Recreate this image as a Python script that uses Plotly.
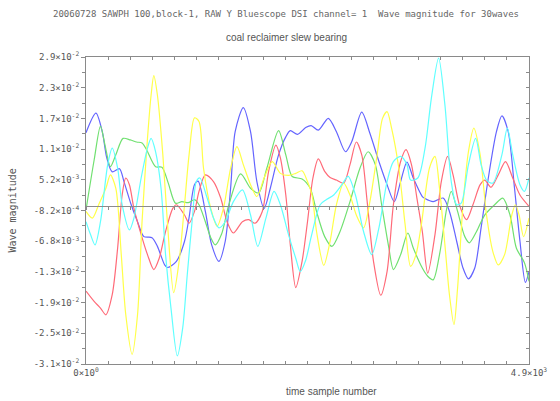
import plotly.graph_objects as go

# ---------------- data ----------------
blue_x = [0, 110, 180, 230, 290, 370, 420, 500, 570, 640, 730, 790, 870, 900, 1000, 1090, 1140, 1200, 1240, 1320,
          1390, 1470, 1540, 1600, 1650, 1740, 1820, 1890, 1970, 2040, 2130, 2210, 2260, 2340, 2430, 2490, 2570, 2680,
          2770, 2870, 2940, 3050, 3140, 3240, 3330, 3410, 3480, 3550, 3620, 3720, 3750, 3840, 3950, 4020, 4100, 4170,
          4230, 4300, 4370, 4450, 4540, 4600, 4670, 4740, 4800, 4860, 4900]
blue_y = [14.3e-3, 18.1e-3, 14.5e-3, 9.4e-3, 6.7e-3, 7.3e-3, 4.8e-3, 0.3e-3, -3.0e-3, -5.9e-3, -6.1e-3, -7.8e-3,
          -11.4e-3, -11.9e-3, -10.7e-3, -6.8e-3, -2.2e-3, 4.2e-3, 4.9e-3, -1.0e-3, -7.5e-3, -10.7e-3, -6.8e-3, 3.6e-3,
          14.5e-3, 19.2e-3, 14.5e-3, 4.8e-3, -0.4e-3, 3.6e-3, 10.0e-3, 13.5e-3, 14.7e-3, 14.0e-3, 15.3e-3, 15.7e-3,
          14.8e-3, 17.1e-3, 14.5e-3, 10.6e-3, 12.6e-3, 18.3e-3, 14.2e-3, 8.7e-3, 4.2e-3, 0.9e-3, 4.8e-3, 8.6e-3,
          5.5e-3, 1.9e-3, 1.5e-3, 0.9e-3, 1.6e-3, -1.0e-3, -6.8e-3, -12.0e-3, -14.1e-3, -12.0e-3, -4.2e-3, 5.5e-3,
          14.5e-3, 17.6e-3, 14.5e-3, 3.5e-3, -6.8e-3, -14.8e-3, -12.7e-3]

green_x = [0, 90, 160, 210, 270, 330, 410, 490, 560, 620, 670, 770, 840, 910, 990, 1060, 1130, 1200, 1250, 1320,
           1380, 1430, 1500, 1580, 1710, 1820, 1910, 2000, 2130, 2210, 2280, 2390, 2480, 2550, 2640, 2720, 2810, 2920,
           3030, 3120, 3200, 3270, 3350, 3400, 3480, 3560, 3620, 3720, 3780, 3840, 3910, 3990, 4040, 4110, 4190, 4240,
           4320, 4410, 4520, 4610, 4690, 4760, 4850, 4900]
green_y = [-0.7e-3, 9.0e-3, 15.6e-3, 11.9e-3, 7.7e-3, 10.0e-3, 13.2e-3, 12.9e-3, 12.5e-3, 12.3e-3, 11.0e-3, 7.7e-3,
           7.6e-3, 4.5e-3, 0.6e-3, 0.9e-3, 0.7e-3, 1.3e-3, 0.3e-3, -3.0e-3, -6.1e-3, -7.5e-3, -5.4e-3, 0.3e-3,
           6.3e-3, 3.5e-3, 2.6e-3, 7.4e-3, 14.7e-3, 10.0e-3, 5.8e-3, 5.3e-3, 3.5e-3, -1.0e-3, -5.9e-3, -7.8e-3,
           -4.9e-3, 0.9e-3, 7.4e-3, 10.6e-3, 8.1e-3, 0.3e-3, -8.1e-3, -12.3e-3, -9.4e-3, -5.2e-3, -8.1e-3, -12.0e-3,
           -13.6e-3, -14.3e-3, -9.4e-3, -0.4e-3, 2.9e-3, -1.0e-3, -5.9e-3, -7.1e-3, -4.9e-3, -1.7e-3, 0.3e-3, 1.6e-3,
           -1.7e-3, -8.1e-3, -11.0e-3, -14.6e-3]

red_x = [0, 90, 160, 220, 290, 350, 400, 440, 480, 530, 610, 680, 750, 810, 880, 960, 1000, 1090, 1140, 1200,
         1250, 1320, 1410, 1490, 1560, 1630, 1730, 1800, 1870, 1950, 2020, 2100, 2150, 2210, 2260, 2320, 2390, 2450,
         2510, 2570, 2640, 2700, 2770, 2850, 2920, 2990, 3050, 3110, 3180, 3260, 3330, 3400, 3480, 3540, 3600, 3660,
         3720, 3780, 3860, 3930, 4000, 4060, 4130, 4210, 4280, 4360, 4410, 4480, 4560, 4640, 4720, 4800, 4900]
red_y = [-16.5e-3, -18.5e-3, -19.8e-3, -21.1e-3, -17.2e-3, -8.1e-3, 2.2e-3, 5.5e-3, 4.2e-3, -0.4e-3, -5.5e-3,
         -9.4e-3, -12.3e-3, -10.1e-3, -4.9e-3, -0.4e-3, 0.3e-3, -1.7e-3, -3.3e-3, -1.0e-3, 2.9e-3, 6.1e-3, 4.8e-3,
         1.6e-3, -3.0e-3, -5.2e-3, -3.0e-3, -2.6e-3, -3.3e-3, -1.0e-3, 6.8e-3, 11.9e-3, 9.4e-3, 2.2e-3, -7.5e-3,
         -15.8e-3, -10.7e-3, -3.0e-3, 5.5e-3, 9.2e-3, 6.8e-3, 5.6e-3, 5.1e-3, 4.5e-3, 8.1e-3, 12.5e-3, 10.0e-3,
         0.9e-3, -10.7e-3, -17.3e-3, -12.7e-3, 0.3e-3, 8.7e-3, 11.0e-3, 8.1e-3, 1.6e-3, -4.9e-3, -13.0e-3, -5.5e-3,
         4.8e-3, 9.7e-3, 6.1e-3, 0.3e-3, -2.6e-3, 0.3e-3, 4.2e-3, 5.1e-3, 3.7e-3, 6.1e-3, 8.7e-3, 5.5e-3, 2.2e-3,
         0.0]

yellow_x = [0, 70, 140, 220, 270, 330, 390, 440, 510, 570, 620, 680, 720, 750, 790, 850, 900, 970, 1030, 1090,
            1140, 1200, 1250, 1300, 1380, 1450, 1520, 1600, 1670, 1740, 1820, 1890, 1970, 2060, 2150, 2240, 2320,
            2390, 2450, 2500, 2550, 2630, 2700, 2770, 2850, 2920, 2990, 3070, 3140, 3220, 3280, 3330, 3380, 3460,
            3530, 3590, 3650, 3710, 3800, 3860, 3910, 3970, 4020, 4070, 4110, 4170, 4230, 4290, 4360, 4430, 4500,
            4560, 4630, 4710, 4750, 4790, 4840, 4900]
yellow_y = [-1.0e-3, -2.3e-3, 0.3e-3, 3.5e-3, 6.1e-3, 3.5e-3, -9.4e-3, -21.1e-3, -28.8e-3, -21.1e-3, -3.0e-3,
            13.2e-3, 21.6e-3, 25.4e-3, 21.6e-3, 10.0e-3, -3.0e-3, -16.8e-3, -10.7e-3, 0.3e-3, 10.0e-3, 17.2e-3,
            16.5e-3, 7.4e-3, -0.4e-3, -3.9e-3, -0.4e-3, 7.4e-3, 11.6e-3, 8.1e-3, 4.2e-3, 1.9e-3, 5.5e-3, 8.7e-3,
            6.4e-3, 6.0e-3, 6.4e-3, 6.9e-3, 4.8e-3, 2.2e-3, -4.9e-3, -11.5e-3, -6.8e-3, 0.3e-3, 4.5e-3, 2.2e-3,
            -1.7e-3, -4.2e-3, 0.9e-3, 10.0e-3, 17.1e-3, 18.4e-3, 15.2e-3, 7.4e-3, -3.6e-3, -11.7e-3, -9.4e-3,
            -3.5e-3, 7.5e-3, 9.7e-3, 3.5e-3, -7.5e-3, -17.2e-3, -23.0e-3, -15.9e-3, 0.3e-3, 10.6e-3, 15.2e-3,
            10.0e-3, -1.7e-3, -8.8e-3, -11.4e-3, -9.4e-3, -1.7e-3, 0.3e-3, -1.7e-3, -5.9e-3, -2.3e-3]

cyan_x = [0, 50, 100, 160, 240, 290, 350, 400, 480, 530, 610, 680, 720, 770, 830, 880, 940, 1010, 1070, 1120,
          1180, 1220, 1260, 1340, 1410, 1470, 1540, 1630, 1730, 1820, 1900, 1990, 2080, 2150, 2240, 2320, 2370,
          2430, 2490, 2590, 2660, 2740, 2830, 2900, 2980, 3070, 3160, 3240, 3330, 3400, 3480, 3550, 3590, 3670,
          3750, 3820, 3900, 3970, 4040, 4100, 4150, 4230, 4310, 4370, 4430, 4500, 4600, 4660, 4720, 4800, 4850, 4900]
cyan_y = [-3.0e-3, -5.5e-3, -7.5e-3, -3.0e-3, 8.1e-3, 11.3e-3, 7.4e-3, 0.3e-3, -4.6e-3, -2.3e-3, 5.5e-3, 11.3e-3,
          13.2e-3, 10.6e-3, 3.5e-3, -9.4e-3, -19.8e-3, -29.1e-3, -23.6e-3, -13.3e-3, -1.7e-3, 4.8e-3, 5.5e-3,
          1.6e-3, -2.3e-3, -4.2e-3, -3.0e-3, 0.9e-3, 3.2e-3, -1.7e-3, -7.8e-3, -2.3e-3, 2.9e-3, 0.3e-3, -5.5e-3,
          -10.1e-3, -12.7e-3, -10.5e-3, -6.0e-3, 0.3e-3, 1.3e-3, 2.2e-3, 4.2e-3, 5.8e-3, 2.2e-3, -4.9e-3, -9.4e-3,
          -4.2e-3, 4.8e-3, 8.7e-3, 9.7e-3, 8.1e-3, 5.1e-3, 5.5e-3, 11.3e-3, 21.0e-3, 28.8e-3, 19.7e-3, 4.8e-3,
          0.3e-3, 0.6e-3, 8.1e-3, 13.2e-3, 8.1e-3, 5.1e-3, 4.5e-3, 10.0e-3, 15.2e-3, 10.0e-3, 4.2e-3, 2.9e-3, 5.5e-3]

y_tick_vals = [-0.03067, -0.02470, -0.01873, -0.01276, -0.00679, -0.00082,
               0.00515, 0.01112, 0.01709, 0.02306, 0.02903]
y_tick_text = ["-3.1×10<sup>-2</sup>", "-2.5×10<sup>-2</sup>", "-1.9×10<sup>-2</sup>", "-1.3×10<sup>-2</sup>",
               "-6.8×10<sup>-3</sup>", "-8.2×10<sup>-4</sup>", "5.2×10<sup>-3</sup>", "1.1×10<sup>-2</sup>",
               "1.7×10<sup>-2</sup>", "2.3×10<sup>-2</sup>", "2.9×10<sup>-2</sup>"]
x_tick_vals = [0, 4900]
x_tick_text = ["0×10<sup>0</sup>", "4.9×10<sup>3</sup>"]

title_text = "20060728 SAWPH 100,block-1, RAW Y Bluescope DSI channel= 1&nbsp; Wave magnitude for 30waves"
subtitle_text = "coal reclaimer slew bearing"
x_title = "time sample number"
y_title = "Wave magnitude"

# ---------------- figure ----------------
Y_MIN, Y_MAX = -0.03067, 0.02903
X_MIN, X_MAX = 0, 4900
X_STEP = 245
Y_HALF = 0.002985
AXC = "#8a8a8a"
TXT = "#555555"
MONO = "DejaVu Sans Mono"

series = [
    (blue_x, blue_y, "#6464ff"),
    (green_x, green_y, "#70e070"),
    (red_x, red_y, "#ff6a78"),
    (yellow_x, yellow_y, "#ffff48"),
    (cyan_x, cyan_y, "#60ffff"),
]

fig = go.Figure()
for xs, ys, col in series:
    fig.add_trace(go.Scatter(x=xs, y=ys, mode="lines",
                             line=dict(color=col, width=1.2, shape="spline", smoothing=0.8),
                             showlegend=False, hoverinfo="skip"))

# empty traces so that the decoration axes exist
fig.add_trace(go.Scatter(x=[None], y=[None], xaxis="x2", yaxis="y2", showlegend=False))
fig.add_trace(go.Scatter(x=[None], y=[None], xaxis="x3", yaxis="y", showlegend=False))

zero_pos = (0 - Y_MIN) / (Y_MAX - Y_MIN)

fig.update_layout(
    width=560, height=401,
    margin=dict(l=86, r=31, t=57, b=37, pad=0),
    paper_bgcolor="white", plot_bgcolor="white",
    xaxis=dict(range=[X_MIN, X_MAX], showgrid=False, zeroline=False,
               showline=True, linecolor=AXC, linewidth=1,
               tickmode="array", tickvals=x_tick_vals, ticktext=x_tick_text,
               ticks="inside", ticklen=3, tickcolor=AXC,
               minor=dict(tick0=0, dtick=X_STEP, ticks="inside", ticklen=3, tickcolor=AXC, showgrid=False),
               tickfont=dict(family=MONO, size=9, color=TXT)),
    xaxis2=dict(range=[X_MIN, X_MAX], overlaying="x", side="top", anchor="y2",
                showgrid=False, zeroline=False, showline=True, linecolor=AXC, linewidth=1,
                tickmode="linear", tick0=0, dtick=X_STEP, ticks="inside", ticklen=3, tickcolor=AXC,
                showticklabels=False),
    xaxis3=dict(range=[X_MIN, X_MAX], overlaying="x", side="bottom", anchor="free", position=zero_pos,
                showgrid=False, zeroline=False, showline=True, linecolor="#8c8c8c", linewidth=1.3,
                tickmode="linear", tick0=0, dtick=X_STEP, ticks="outside", ticklen=3, tickcolor=AXC,
                showticklabels=False),
    yaxis=dict(range=[Y_MIN, Y_MAX], showgrid=False, zeroline=False,
               showline=True, linecolor=AXC, linewidth=1,
               tickmode="array", tickvals=y_tick_vals, ticktext=y_tick_text,
               ticks="outside", ticklen=4, tickcolor=AXC,
               minor=dict(tick0=Y_MIN, dtick=Y_HALF, ticks="outside", ticklen=3, tickcolor=AXC, showgrid=False),
               tickfont=dict(family=MONO, size=9, color=TXT)),
    yaxis2=dict(range=[Y_MIN, Y_MAX], overlaying="y", side="right", anchor="x2",
                showgrid=False, zeroline=False, showline=True, linecolor=AXC, linewidth=1,
                tickmode="linear", tick0=Y_MIN, dtick=Y_HALF, ticks="inside", ticklen=3, tickcolor=AXC,
                showticklabels=False),
    annotations=[
        dict(text=title_text, xref="paper", yref="paper", x=0.4515, y=1.14, xanchor="center", yanchor="middle",
             showarrow=False, font=dict(family=MONO, size=9, color="#666666")),
        dict(text=subtitle_text, xref="paper", yref="paper", x=0.4537, y=1.065, xanchor="center", yanchor="middle",
             showarrow=False, font=dict(family="Liberation Sans", size=10, color=TXT)),
        dict(text=x_title, xref="paper", yref="paper", x=0.555, y=-0.091, xanchor="center", yanchor="middle",
             showarrow=False, font=dict(family="Liberation Sans", size=10, color=TXT)),
        dict(text=y_title, xref="paper", yref="paper", x=-0.167, y=0.50, xanchor="center", yanchor="middle",
             textangle=-90, showarrow=False, font=dict(family=MONO, size=10, color=TXT)),
    ],
)

fig.write_html("out.html")
